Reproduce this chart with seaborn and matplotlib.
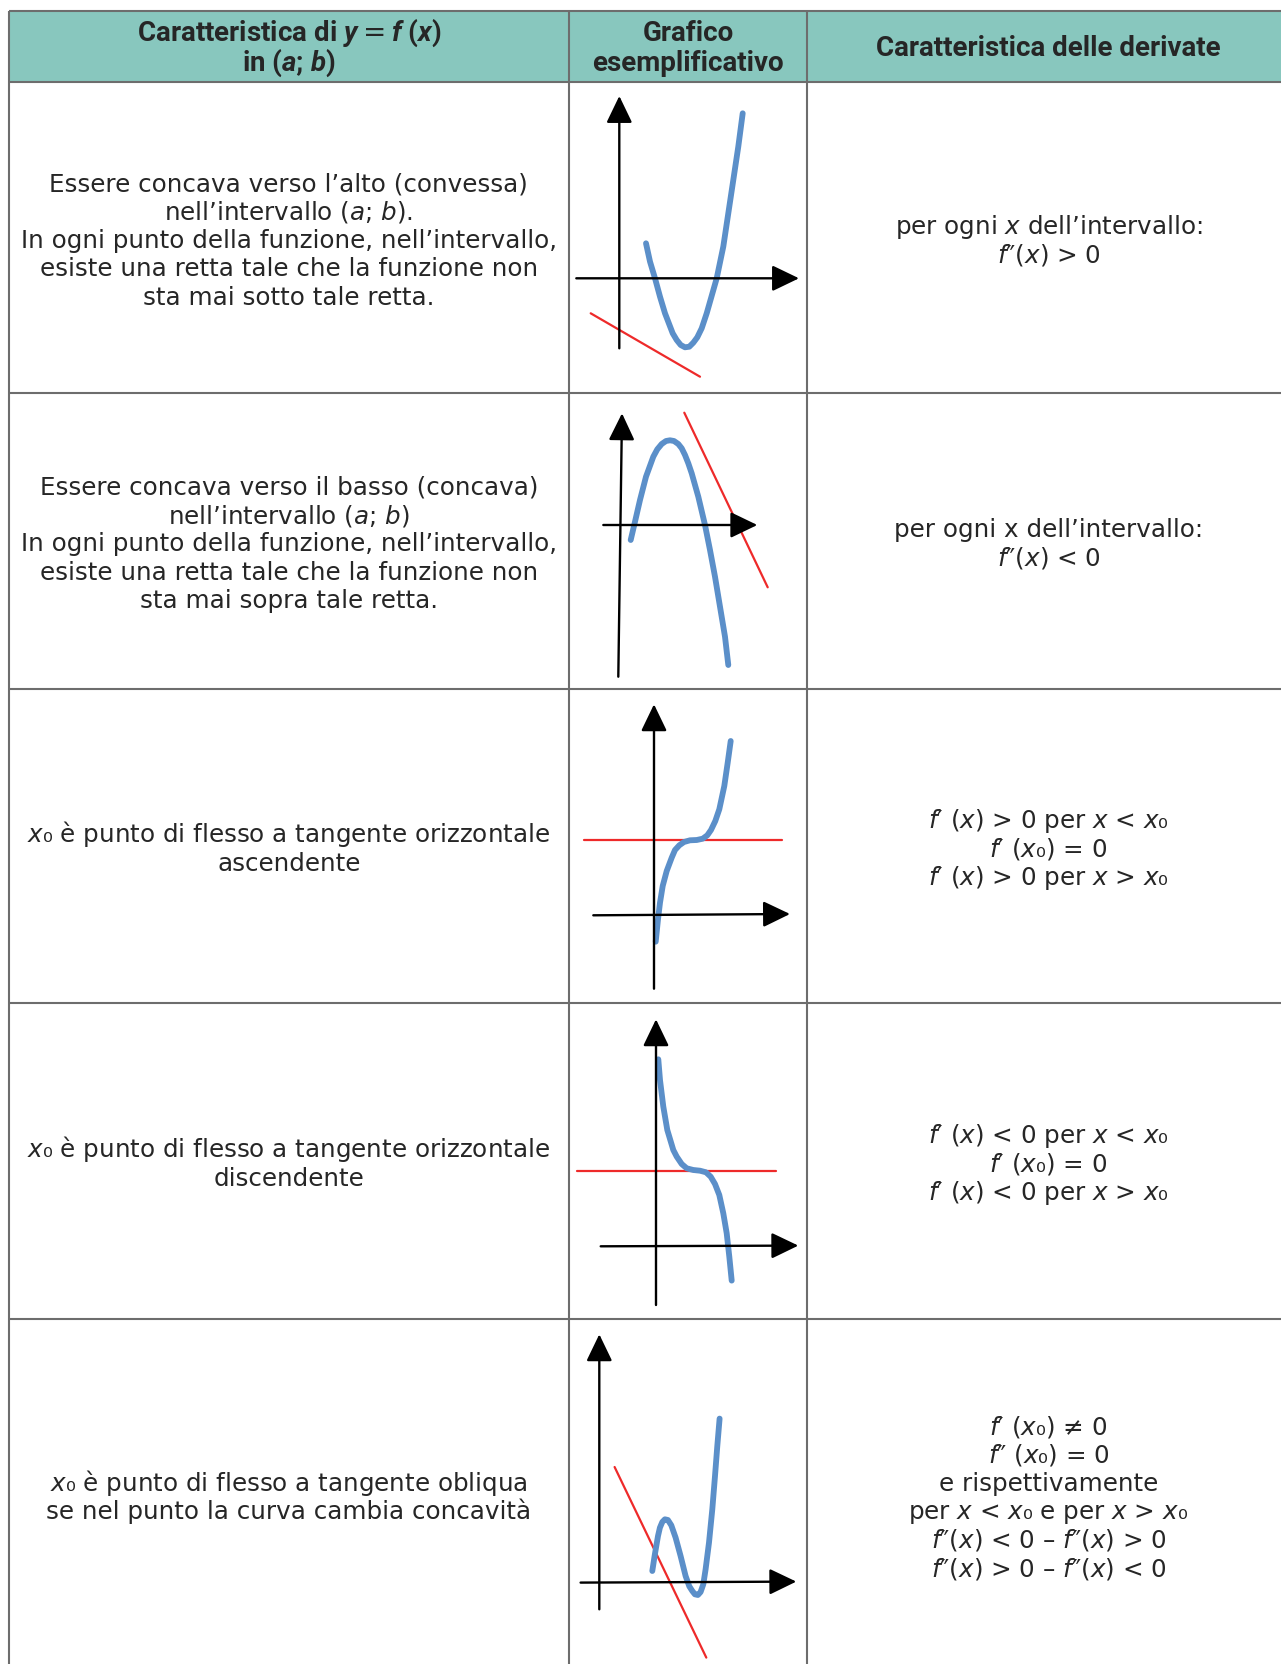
import numpy as np
import pandas as pd
import seaborn as sns
import matplotlib.pyplot as plt

# Style
sns.set_theme(style='white')
plt.rcParams['font.family'] = ['DejaVu Sans']
plt.rcParams['mathtext.fontset'] = 'custom'
plt.rcParams['mathtext.rm'] = 'DejaVu Sans'
plt.rcParams['mathtext.it'] = 'DejaVu Sans:italic'
plt.rcParams['mathtext.bf'] = 'Roboto:bold'
plt.rcParams['mathtext.bfit'] = 'Roboto:italic:bold'

TEAL = '#88c7be'
GRID = '#6d6d6d'
INK = '#262626'
BLUE = '#5b8fc9'
RED = '#ee2a2a'

# Table text
header = [
    ["Caratteristica di $\\mathbfit{y} = \\mathbfit{f}$ ($\\mathbfit{x}$)", "in ($\\mathbfit{a}$; $\\mathbfit{b}$)"],
    ["Grafico", "esemplificativo"],
    ["Caratteristica delle derivate"],
]
col1_text = [
    ["Essere concava verso l’alto (convessa)", "nell’intervallo ($a$; $b$).",
     "In ogni punto della funzione, nell’intervallo,", "esiste una retta tale che la funzione non",
     "sta mai sotto tale retta."],
    ["Essere concava verso il basso (concava)", "nell’intervallo ($a$; $b$)",
     "In ogni punto della funzione, nell’intervallo,", "esiste una retta tale che la funzione non",
     "sta mai sopra tale retta."],
    ["$x$₀ è punto di flesso a tangente orizzontale", "ascendente"],
    ["$x$₀ è punto di flesso a tangente orizzontale", "discendente"],
    ["$x$₀ è punto di flesso a tangente obliqua", "se nel punto la curva cambia concavità"],
]
col3_text = [
    ["per ogni $x$ dell’intervallo:", "$f$″($x$) > 0"],
    ["per ogni x dell’intervallo:", "$f$″($x$) < 0"],
    ["$f$′ ($x$) > 0 per $x$ < $x$₀", "$f$′ ($x$₀) = 0", "$f$′ ($x$) > 0 per $x$ > $x$₀"],
    ["$f$′ ($x$) < 0 per $x$ < $x$₀", "$f$′ ($x$₀) = 0", "$f$′ ($x$) < 0 per $x$ > $x$₀"],
    ["$f$′ ($x$₀) ≠ 0", "$f$″ ($x$₀) = 0", "e rispettivamente",
     "per $x$ < $x$₀ e per $x$ > $x$₀", "$f$″($x$) < 0 – $f$″($x$) > 0", "$f$″($x$) > 0 – $f$″($x$) < 0"],
]

# Sketch curves (x right, y up, origin at the axes crossing)
g1_curve_x = [26.7, 30.7, 35.7, 40.7, 45.7, 53.4, 57.4, 61.4, 65.7, 70.0, 74.0, 78.0, 82.4, 87.4,
              97.4, 104.0, 109.0, 114.0, 119.0, 123.4]
g1_curve_y = [35.0, 16.7, 0.0, -18.4, -35.0, -55.0, -61.7, -66.7, -69.0, -68.4, -64.4, -59.0, -50.0, -35.0,
              0.0, 31.7, 65.0, 98.3, 131.7, 165.0]
g1_tangent_x = [-28.6, 80.7]
g1_tangent_y = [-35.0, -98.4]

g2_curve_x = [10.4, 14.7, 19.7, 25.7, 33.0, 37.0, 41.4, 45.7, 49.7, 53.7, 58.0, 61.4, 64.7, 68.0, 71.4,
              78.0, 84.7, 89.7, 94.7, 99.7, 104.7, 108.0]
g2_curve_y = [-15.0, 3.3, 25.0, 48.3, 68.3, 75.7, 81.0, 84.0, 84.7, 84.0, 81.0, 76.7, 70.0, 61.7, 51.7,
              28.3, 0.0, -25.0, -51.7, -81.7, -111.7, -140.0]
g2_tangent_x = [64.0, 147.4]
g2_tangent_y = [112.3, -62.3]

g3_curve_x = [1.7, 4.0, 6.0, 8.7, 12.7, 17.7, 21.0, 25.3, 30.0, 36.0, 42.7, 48.7, 53.3, 57.0, 61.3,
              65.3, 70.3, 73.7, 76.7]
g3_curve_y = [-26.7, -4.3, 12.3, 29.0, 44.0, 57.3, 65.0, 69.7, 73.0, 74.7, 75.0, 76.3, 79.7, 85.0, 94.0,
              105.7, 129.0, 152.3, 174.0]
g3_tangent_x = [-70.0, 128.3]
g3_tangent_y = [75.0, 75.0]

g4_curve_x = [2.3, 4.0, 7.3, 11.3, 17.3, 20.7, 25.7, 30.7, 37.3, 44.0, 50.0, 54.7, 59.0, 63.3,
              67.3, 70.7, 73.3, 75.7]
g4_curve_y = [187.0, 166.3, 139.7, 116.3, 96.3, 89.7, 82.3, 78.0, 76.3, 75.6, 74.0, 69.6, 62.3, 51.3,
              33.0, 13.0, -10.3, -34.3]
g4_tangent_x = [-79.3, 119.7]
g4_tangent_y = [75.7, 75.7]

g5_curve_x = [53.0, 55.3, 58.7, 60.6, 63.0, 65.6, 68.6, 72.0, 76.3, 81.3, 86.3, 90.0, 93.0, 95.6, 98.6,
              101.3, 104.0, 106.3, 109.7, 113.0, 115.7, 118.0, 120.3]
g5_curve_y = [11.3, 26.3, 46.3, 54.6, 60.3, 63.0, 62.3, 57.0, 44.7, 26.3, 6.3, -4.0, -8.7, -12.0, -12.7,
              -9.7, -2.0, 13.0, 39.7, 73.0, 106.3, 136.3, 163.7]
g5_tangent_x = [15.3, 107.0]
g5_tangent_y = [115.3, -75.3]

# axis arrows: (start, tip) for y and x
g1_axes = [((0, -70.0), (0, 182.3)), ((-43.0, 0), (179.7, 0))]
g2_axes = [((-2.0, -151.7), (1.7, 111.7)), ((-17.0, 0), (137.0, 0))]
g3_axes = [((0, -73.7), (0, 210.7)), ((-60.7, -0.3), (136.0, 1.0))]
g4_axes = [((0, -58.7), (0, 227.0)), ((-55.3, 0), (142.3, 0.7))]
g5_axes = [((0, -27.0), (0, 248.0)), ((-18.7, -0.3), (197.0, 0.7))]

sketches = [
    (g1_curve_x, g1_curve_y, g1_tangent_x, g1_tangent_y, g1_axes),
    (g2_curve_x, g2_curve_y, g2_tangent_x, g2_tangent_y, g2_axes),
    (g3_curve_x, g3_curve_y, g3_tangent_x, g3_tangent_y, g3_axes),
    (g4_curve_x, g4_curve_y, g4_tangent_x, g4_tangent_y, g4_axes),
    (g5_curve_x, g5_curve_y, g5_tangent_x, g5_tangent_y, g5_axes),
]

# Layout (pixels)
W, H = 1281, 1664
col_edges = [8.5, 569, 807, 1290]
row_edges = [10.6, 82, 393, 689, 1003, 1319, 1670]
origins = [(619.3, 278.3), (620.3, 525.0), (654.0, 915.0), (656.0, 1246.3), (599.3, 1582.3)]
LINE_H = 28.4
HEAD_LINE_H = 29.5
BASE_OFF = 10.5

fig = plt.figure(figsize=(W / 100, H / 100), dpi=100)
ax = fig.add_axes([0, 0, 1, 1])
ax.set_xlim(0, W)
ax.set_ylim(H, 0)
ax.axis('off')

# grid of the table
ax.fill_between([col_edges[0], col_edges[-1]], row_edges[0], row_edges[1], color=TEAL, lw=0)
ax.hlines(row_edges, col_edges[0], col_edges[-1], color=GRID, lw=1.5)
ax.vlines(col_edges, row_edges[0], row_edges[-1], color=GRID, lw=1.5)


def put_lines(lines, c, r, step=LINE_H, shift=BASE_OFF, **kw):
    xc = (col_edges[c] + col_edges[c + 1]) / 2
    mid = (row_edges[r] + row_edges[r + 1]) / 2 + shift
    n = len(lines)
    for k, s in enumerate(lines):
        ax.text(xc, mid + (k - (n - 1) / 2) * step, s, ha='center', va='baseline', color=INK, **kw)


head_font = dict(family=['Roboto', 'DejaVu Sans'], fontweight='bold', fontsize=20)
for c, lines in enumerate(header):
    put_lines(lines, c, 0, step=HEAD_LINE_H, shift=9.5, **head_font)

body_font = dict(fontsize=17.7)
for r in range(5):
    put_lines(col1_text[r], 0, r + 1, **body_font)
    put_lines(col3_text[r], 2, r + 1, **body_font)

# sketches, one small axes per cell
arrow_style = '-|>,head_length=0.83,head_width=0.4'
for r, (cx, cy, tx, ty, arrows) in enumerate(sketches):
    ox, oy = origins[r]
    r0, r1 = row_edges[r + 1], row_edges[r + 2]
    c0, c1 = col_edges[1], col_edges[2]
    g = fig.add_axes([c0 / W, 1 - r1 / H, (c1 - c0) / W, (r1 - r0) / H])
    g.set_xlim(c0 - ox, c1 - ox)
    g.set_ylim(oy - r1, oy - r0)
    g.axis('off')
    g.patch.set_alpha(0)
    for start, tip in arrows:
        g.annotate('', xy=tip, xytext=start,
                   arrowprops=dict(arrowstyle=arrow_style, mutation_scale=20, color='black',
                                   lw=1.7, shrinkA=0, shrinkB=0))
    sns.lineplot(x=tx, y=ty, ax=g, color=RED, lw=1.6, sort=False, estimator=None)
    sns.lineplot(x=cx, y=cy, ax=g, color=BLUE, lw=4.2, sort=False, estimator=None,
                 solid_capstyle='round', solid_joinstyle='round')
    g.set_xlim(c0 - ox, c1 - ox)
    g.set_ylim(oy - r1, oy - r0)

fig.savefig('out.png', dpi=100)
